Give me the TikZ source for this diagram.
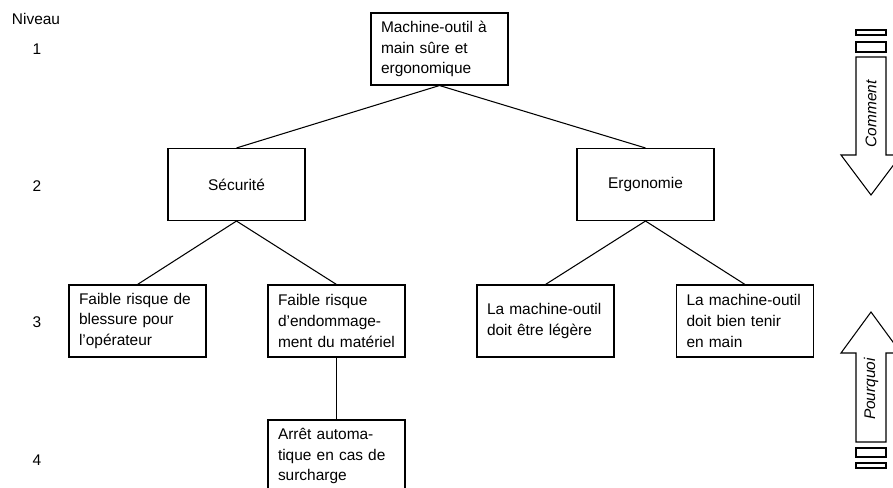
\documentclass[tikz,border=0pt]{standalone}
\usepackage{fontspec}
\setmainfont{Liberation Sans}
\usepackage{tikz}
\usetikzlibrary{calc}

\begin{document}
\begin{tikzpicture}[font=\fontsize{8.8}{11.7}\selectfont,
            fbox/.style={draw, line width=0.6pt, align=left, text width=2.34cm,
                        inner xsep=0.2cm, minimum height=1.44cm},
            cbox/.style={fbox, align=center},
            lnk/.style={line width=0.6pt},
            sens/.style={draw, line width=0.6pt, fill=white}]
            \useasboundingbox (0,0) rectangle (17.86,-9.76);
            % niveaux
            \node (niv) at (0.72,-0.38) {Niveau};
            \node (n1) at (0.74,-0.98) {1};
            \node (n2) at (0.74,-3.72) {2};
            \node (n3) at (0.74,-6.44) {3};
            \node (n4) at (0.74,-9.20) {4};
            % arbre
            \node[fbox] (mo) at (8.79,-0.98)
              {Machine-outil à\\main sûre et\\ergonomique};
            \node[cbox] (sec) at (4.73,-3.69) {Sécurité};
            \node[cbox] (ergo) at (12.91,-3.69) {Ergonomie};
            \node[fbox] (bless) at (2.75,-6.42)
              {Faible risque de\\blessure pour\\l’opérateur};
            \node[fbox] (endo) at (6.73,-6.42)
              {Faible risque\\d’endommage-\\ment du matériel};
            \node[fbox] (leger) at (10.91,-6.42)
              {La machine-outil\\doit être légère};
            \node[fbox] (tenir) at (14.90,-6.42)
              {La machine-outil\\doit bien tenir\\en main};
            \node[fbox] (arret) at (6.73,-9.12)
              {Arrêt automa-\\tique en cas de\\surcharge};
            \draw[lnk] (mo.south) -- (sec.north);
            \draw[lnk] (mo.south) -- (ergo.north);
            \draw[lnk] (sec.south) -- (bless.north);
            \draw[lnk] (sec.south) -- (endo.north);
            \draw[lnk] (ergo.south) -- (leger.north);
            \draw[lnk] (ergo.south) -- (tenir.north);
            \draw[lnk] (endo.south) -- (arret.north);
            % fleche Comment
            \draw[sens] (17.12,-0.60) rectangle (17.72,-0.70);
            \draw[sens] (17.12,-0.84) rectangle (17.72,-1.04);
            \draw[sens] (17.12,-1.14) -- (17.72,-1.14) -- (17.72,-3.10)
              -- (18.02,-3.10) -- (17.42,-3.90) -- (16.82,-3.10)
              -- (17.12,-3.10) -- cycle;
            \node[rotate=90, font=\fontsize{8.8}{11.7}\selectfont\itshape] (comment)
              at (17.42,-2.28) {Comment};
            % fleche Pourquoi
            \draw[sens] (17.12,-8.84) -- (17.72,-8.84) -- (17.72,-7.06)
              -- (18.02,-7.06) -- (17.42,-6.24) -- (16.82,-7.06)
              -- (17.12,-7.06) -- cycle;
            \draw[sens] (17.12,-8.96) rectangle (17.72,-9.14);
            \draw[sens] (17.12,-9.26) rectangle (17.72,-9.36);
            \node[rotate=90, font=\fontsize{8.8}{11.7}\selectfont\itshape] (pourquoi)
              at (17.42,-7.78) {Pourquoi};
          \end{tikzpicture}
\end{document}
